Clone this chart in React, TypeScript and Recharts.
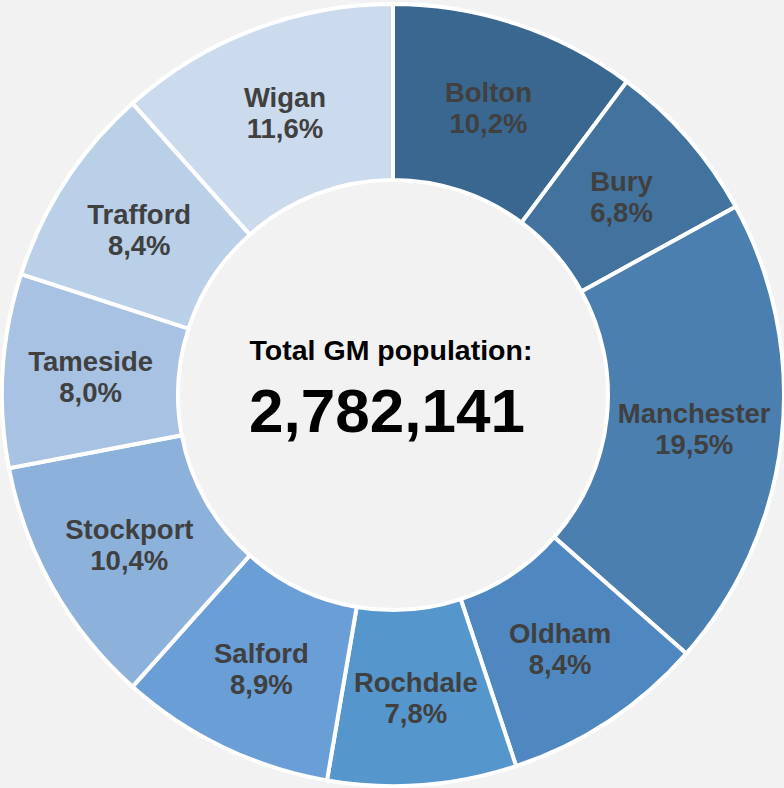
import { PieChart, Pie, Cell } from 'recharts';

const boroughs = ['Bolton', 'Bury', 'Manchester', 'Oldham', 'Rochdale', 'Salford', 'Stockport', 'Tameside', 'Trafford', 'Wigan'];
const shares = [10.2, 6.8, 19.5, 8.4, 7.8, 8.9, 10.4, 8.0, 8.4, 11.6];
const colors = ['#3a6790', '#42739f', '#4a7fb0', '#4f88c0', '#5596cc', '#6a9ed6', '#8cb2dc', '#a7c2e3', '#bacfe8', '#ccdaee'];
const totalLabel = 'Total GM population:';
const totalValue = '2,782,141';

const FONT = '"Liberation Sans", Arial, sans-serif';
const RADIAN = Math.PI / 180;

const data = boroughs.map((name, i) => ({ name, value: shares[i] }));

// name + share, stacked, in the middle of the ring
const renderLabel = (props: any) => {
    const { cx, cy, midAngle, innerRadius, outerRadius, name, value } = props;
    const r = (innerRadius + outerRadius) / 2;
    const x = cx + r * Math.cos(-midAngle * RADIAN);
    const y = cy + r * Math.sin(-midAngle * RADIAN);
    return (
        <g>
            <text x={x} y={y - 5} textAnchor="middle" fill="#404040" fontSize={27.5} fontWeight="bold" fontFamily={FONT}>
                {name}
            </text>
            <text x={x} y={y + 26} textAnchor="middle" fill="#404040" fontSize={27.5} fontWeight="bold" fontFamily={FONT}>
                {value.toFixed(1).replace('.', ',') + '%'}
            </text>
        </g>
    );
};

export default function App() {
    return (
        <div style={{ position: 'absolute', left: 0, top: 0, width: 784, height: 788, background: '#f2f2f2' }}>
            <PieChart width={784} height={788} margin={{ top: 0, right: 0, bottom: 0, left: 0 }}>
                <Pie
                    data={data}
                    dataKey="value"
                    nameKey="name"
                    cx={393}
                    cy={395}
                    innerRadius={215}
                    outerRadius={391}
                    startAngle={90}
                    endAngle={-270}
                    stroke="#ffffff"
                    strokeWidth={4}
                    label={renderLabel}
                    labelLine={false}
                    isAnimationActive={false}
                >
                    {data.map((d, i) => (
                        <Cell key={d.name} fill={colors[i]} />
                    ))}
                </Pie>
                <text x={391} y={360} textAnchor="middle" fill="#000000" fontSize={28.5} fontWeight="bold" fontFamily={FONT}>
                    {totalLabel}
                </text>
                <text x={387} y={432} textAnchor="middle" fill="#000000" fontSize={62} fontWeight="bold" fontFamily={FONT}>
                    {totalValue}
                </text>
            </PieChart>
        </div>
    );
}
